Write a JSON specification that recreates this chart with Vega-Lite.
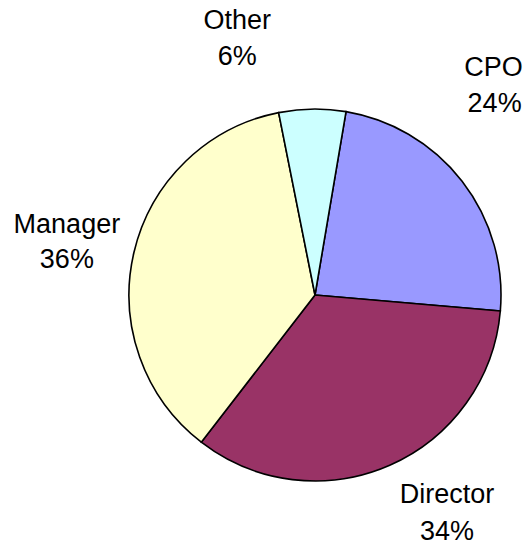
{
  "$schema": "https://vega.github.io/schema/vega-lite/v6.json",
  "autosize": {"type": "none"},
  "padding": {"left": 129, "top": 109, "right": 28, "bottom": 64},
  "width": 372,
  "height": 372,
  "background": "white",
  "config": {"view": {"stroke": null}},
  "data": {"values": [
    {"category": "CPO", "value": 0.237},
    {"category": "Director", "value": 0.341},
    {"category": "Manager", "value": 0.364},
    {"category": "Other", "value": 0.058}
  ]},
  "transform": [
    {"stack": "value", "groupby": [], "as": ["v0", "v1"], "sort": [{"field": "category", "order": "ascending"}]},
    {"calculate": "(datum.v0 + datum.v1) / 2", "as": "mid"}
  ],
  "layer": [
    {
      "mark": {"type": "arc", "stroke": "black", "strokeWidth": 1.6},
      "encoding": {
        "theta": {"field": "v0", "type": "quantitative", "scale": {"type": "linear", "domain": [0, 1], "range": [0.1676, 6.4508]}},
        "theta2": {"field": "v1"},
        "color": {"field": "category", "type": "nominal", "legend": null,
          "scale": {"domain": ["CPO", "Director", "Manager", "Other"], "range": ["#9999FF", "#993366", "#FFFFCC", "#CCFFFF"]}}
      }
    },
    {
      "transform": [{"filter": "datum.category === 'CPO'"}],
      "layer": [
        {"mark": {"type": "text", "font": "Liberation Sans", "fontSize": 27, "color": "black", "align": "center", "baseline": "middle", "dx": -27, "dy": -67.6},
         "encoding": {"theta": {"field": "mid", "type": "quantitative"}, "radius": {"value": 260}, "text": {"field": "category"}}},
        {"mark": {"type": "text", "font": "Liberation Sans", "fontSize": 27, "color": "black", "align": "center", "baseline": "middle", "dx": -26, "dy": -31.6},
         "encoding": {"theta": {"field": "mid", "type": "quantitative"}, "radius": {"value": 260}, "text": {"field": "value", "type": "quantitative", "format": ".0%"}}}
      ]
    },
    {
      "transform": [{"filter": "datum.category === 'Other'"}],
      "layer": [
        {"mark": {"type": "text", "font": "Liberation Sans", "fontSize": 27, "color": "black", "align": "center", "baseline": "middle", "dx": -74, "dy": -14},
         "encoding": {"theta": {"field": "mid", "type": "quantitative"}, "radius": {"value": 260}, "text": {"field": "category"}}},
        {"mark": {"type": "text", "font": "Liberation Sans", "fontSize": 27, "color": "black", "align": "center", "baseline": "middle", "dx": -74, "dy": 22},
         "encoding": {"theta": {"field": "mid", "type": "quantitative"}, "radius": {"value": 260}, "text": {"field": "value", "type": "quantitative", "format": ".0%"}}}
      ]
    },
    {
      "transform": [{"filter": "datum.category === 'Manager'"}],
      "layer": [
        {"mark": {"type": "text", "font": "Liberation Sans", "fontSize": 27, "color": "black", "align": "center", "baseline": "middle", "dx": 5, "dy": -10.6},
         "encoding": {"theta": {"field": "mid", "type": "quantitative"}, "radius": {"value": 260}, "text": {"field": "category"}}},
        {"mark": {"type": "text", "font": "Liberation Sans", "fontSize": 27, "color": "black", "align": "center", "baseline": "middle", "dx": 5, "dy": 24.4},
         "encoding": {"theta": {"field": "mid", "type": "quantitative"}, "radius": {"value": 260}, "text": {"field": "value", "type": "quantitative", "format": ".0%"}}}
      ]
    },
    {
      "transform": [{"filter": "datum.category === 'Director'"}],
      "layer": [
        {"mark": {"type": "text", "font": "Liberation Sans", "fontSize": 27, "color": "black", "align": "center", "baseline": "middle", "dx": 27.5, "dy": -38.2},
         "encoding": {"theta": {"field": "mid", "type": "quantitative"}, "radius": {"value": 260}, "text": {"field": "category"}}},
        {"mark": {"type": "text", "font": "Liberation Sans", "fontSize": 27, "color": "black", "align": "center", "baseline": "middle", "dx": 27.5, "dy": -1.2},
         "encoding": {"theta": {"field": "mid", "type": "quantitative"}, "radius": {"value": 260}, "text": {"field": "value", "type": "quantitative", "format": ".0%"}}}
      ]
    }
  ]
}
